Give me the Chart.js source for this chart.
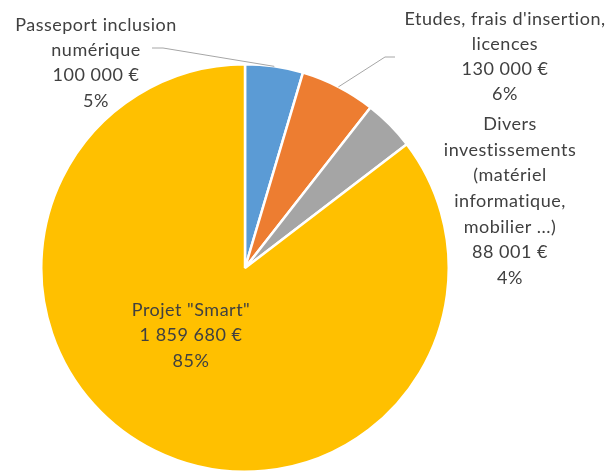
<!DOCTYPE html>
<html><head><meta charset="utf-8">
<script src="https://cdn.jsdelivr.net/npm/chart.js@4.4.0/dist/chart.umd.min.js"></script>
<style>html,body{margin:0;padding:0;background:#fff}#wrap{width:612px;height:475px;position:relative}</style>
</head><body><div id="wrap"><canvas id="c" width="612" height="475"></canvas></div>
<script>
const categories = ['Passeport inclusion numérique', "Etudes, frais d'insertion, licences", 'Divers investissements (matériel informatique, mobilier ...)', 'Projet "Smart"'];
const values = [100000, 130000, 88001, 1859680];
const colors = ['#5B9BD5', '#ED7D31', '#A5A5A5', '#FFC000'];
const labelLines = [
  ['Passeport inclusion', 'numérique', '100 000 €', '5%'],
  ["Etudes, frais d'insertion,", 'licences', '130 000 €', '6%'],
  ['Divers', 'investissements', '(matériel', 'informatique,', 'mobilier ...)', '88 001 €', '4%'],
  ['Projet "Smart"', '1 859 680 €', '85%']
];

// label layout: center x, first line y, line height, optional leader (label-side points)
const labelLayout = [
  {x: 96, y: 25, lh: 25.3, leader: [[152, 48], [163, 48]]},
  {x: 505, y: 19, lh: 25, leader: [[395, 57], [385, 57]]},
  {x: 510, y: 124, lh: 25.7},
  {x: 191, y: 310, lh: 25.5}
];

const labelPlugin = {
  id: 'labels',
  afterDatasetsDraw(chart) {
    const ctx = chart.ctx;
    const meta = chart.getDatasetMeta(0);
    ctx.save();
    meta.data.forEach((arc, i) => {
      const L = labelLayout[i];
      if (L.leader) {
        const mid = (arc.startAngle + arc.endAngle) / 2;
        const ex = arc.x + Math.cos(mid) * arc.outerRadius;
        const ey = arc.y + Math.sin(mid) * arc.outerRadius;
        ctx.strokeStyle = '#A6A6A6';
        ctx.lineWidth = 1;
        ctx.beginPath();
        ctx.moveTo(L.leader[0][0], L.leader[0][1]);
        ctx.lineTo(L.leader[1][0], L.leader[1][1]);
        ctx.lineTo(ex, ey);
        ctx.stroke();
      }
      ctx.fillStyle = '#404040';
      ctx.font = '18px Lato, "Liberation Sans", sans-serif';
      ctx.letterSpacing = '0.5px';
      ctx.textAlign = 'center';
      ctx.textBaseline = 'middle';
      labelLines[i].forEach((t, k) => ctx.fillText(t, L.x, L.y + k * L.lh));
    });
    ctx.restore();
  }
};

new Chart(document.getElementById('c'), {
  type: 'pie',
  data: {
    labels: categories,
    datasets: [{data: values, backgroundColor: colors, borderColor: '#ffffff', borderWidth: 2.5}]
  },
  options: {
    responsive: false,
    animation: false,
    layout: {padding: {left: 40, right: 162, top: 63, bottom: 2}},
    plugins: {legend: {display: false}, tooltip: {enabled: false}}
  },
  plugins: [labelPlugin]
});
</script></body></html>
